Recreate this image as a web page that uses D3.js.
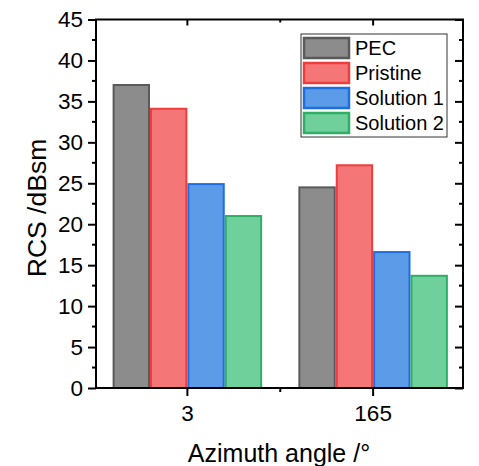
<!DOCTYPE html>
<html>
<head>
<meta charset="utf-8">
<script src="https://cdn.jsdelivr.net/npm/d3@7"></script>
<style>
  html, body { margin: 0; padding: 0; background: #fff; }
  svg { display: block; font-family: Arial, "Liberation Sans", sans-serif; }
</style>
</head>
<body>
<svg id="chart" width="479" height="466"></svg>
<script>
const categories = ["3", "165"];
const seriesNames = ["PEC", "Pristine", "Solution 1", "Solution 2"];
const pecValues = [37.0, 24.5];
const pristineValues = [34.1, 27.2];
const solution1Values = [24.9, 16.6];
const solution2Values = [21.0, 13.7];
const yTicks = [0, 5, 10, 15, 20, 25, 30, 35, 40, 45];
const yMinorTicks = [2.5, 7.5, 12.5, 17.5, 22.5, 27.5, 32.5, 37.5, 42.5];

const fills = ["#8c8c8c", "#f47676", "#5c9be8", "#6fd09b"];
const strokes = ["#5a5a5a", "#ee3d3d", "#1f6ee0", "#2fae66"];

const seriesValues = [pecValues, pristineValues, solution1Values, solution2Values];

const svg = d3.select("#chart");
const L = 96, R = 463, T = 19.5, B = 388;

const y = d3.scaleLinear().domain([0, 45]).range([B, T]);
const x0 = d3.scaleBand().domain(categories).range([94.5, 466]).paddingInner(0.195).paddingOuter(0.0975);
const x1 = d3.scaleBand().domain(seriesNames).range([0, x0.bandwidth()]);

// bars
const groups = svg.append("g").selectAll("g").data(categories).join("g")
  .attr("transform", d => `translate(${x0(d)},0)`);
groups.selectAll("rect")
  .data((c, ci) => seriesNames.map((s, si) => ({ s, si, v: seriesValues[si][ci] })))
  .join("rect")
  .attr("x", d => x1(d.s) + 1)
  .attr("width", x1.bandwidth() - 2)
  .attr("y", d => y(d.v))
  .attr("height", d => B - y(d.v))
  .attr("fill", d => fills[d.si])
  .attr("stroke", d => strokes[d.si])
  .attr("stroke-width", 2);

// axes
const axisW = 2;
const tickFont = 22.5;
// left axis
const gl = svg.append("g").attr("transform", `translate(${L},0)`)
  .call(d3.axisLeft(y).tickValues(yTicks).tickSize(8).tickPadding(5).tickFormat(d3.format("d")));
gl.selectAll(".tick text").attr("font-size", tickFont).attr("font-family", "Arial, 'Liberation Sans', sans-serif").attr("fill", "#000");
gl.append("g").selectAll("line").data(yMinorTicks).join("line")
  .attr("x1", 0).attr("x2", -4).attr("y1", d => y(d)).attr("y2", d => y(d));
// right axis (inward)
const gr = svg.append("g").attr("transform", `translate(${R},0)`)
  .call(d3.axisRight(y).tickValues(yTicks).tickSize(-8).tickFormat(""));
gr.append("g").selectAll("line").data(yMinorTicks).join("line")
  .attr("x1", 0).attr("x2", -4).attr("y1", d => y(d)).attr("y2", d => y(d));
// bottom axis
const xc = d => x0(d) + x0.bandwidth() / 2;
const gb = svg.append("g").attr("transform", `translate(0,${B})`)
  .call(d3.axisBottom(x0).tickSize(8).tickPadding(9));
gb.selectAll(".tick text").attr("font-size", tickFont).attr("font-family", "Arial, 'Liberation Sans', sans-serif").attr("fill", "#000");
const midMinor = (xc(categories[0]) + xc(categories[1])) / 2;
gb.append("line").attr("x1", midMinor).attr("x2", midMinor).attr("y1", 0).attr("y2", 4);
// top axis (inward)
const gt = svg.append("g").attr("transform", `translate(0,${T})`)
  .call(d3.axisTop(x0).tickSize(-6).tickFormat(""));
gt.append("line").attr("x1", midMinor).attr("x2", midMinor).attr("y1", 0).attr("y2", 3);

[gl, gr, gb, gt].forEach(g => {
  g.select(".domain").remove();
  g.selectAll("line").attr("stroke", "#000").attr("stroke-width", axisW);
});
// frame
svg.append("rect").attr("x", L).attr("y", T).attr("width", R - L).attr("height", B - T)
  .attr("fill", "none").attr("stroke", "#000").attr("stroke-width", axisW);

// axis titles
svg.append("text").attr("transform", `translate(46,208) rotate(-90)`)
  .attr("text-anchor", "middle").attr("font-size", 26.5).attr("fill", "#000").text("RCS /dBsm");
svg.append("text").attr("x", 279).attr("y", 462)
  .attr("text-anchor", "middle").attr("font-size", 25).attr("fill", "#000").text("Azimuth angle /°");

// legend
const lg = svg.append("g");
lg.append("rect").attr("x", 301).attr("y", 34).attr("width", 146).attr("height", 103)
  .attr("fill", "#fff").attr("stroke", "#333").attr("stroke-width", 1);
const rows = lg.selectAll("g.row").data(seriesNames).join("g").attr("class", "row")
  .attr("transform", (d, i) => `translate(0,${37 + i * 25})`);
rows.append("rect").attr("x", 304).attr("y", 1).attr("width", 45).attr("height", 20)
  .attr("fill", (d, i) => fills[i]).attr("stroke", (d, i) => strokes[i]).attr("stroke-width", 2.5);
rows.append("text").attr("x", 355).attr("y", 18).attr("font-size", 20).attr("fill", "#000").text(d => d);
</script>
</body>
</html>
